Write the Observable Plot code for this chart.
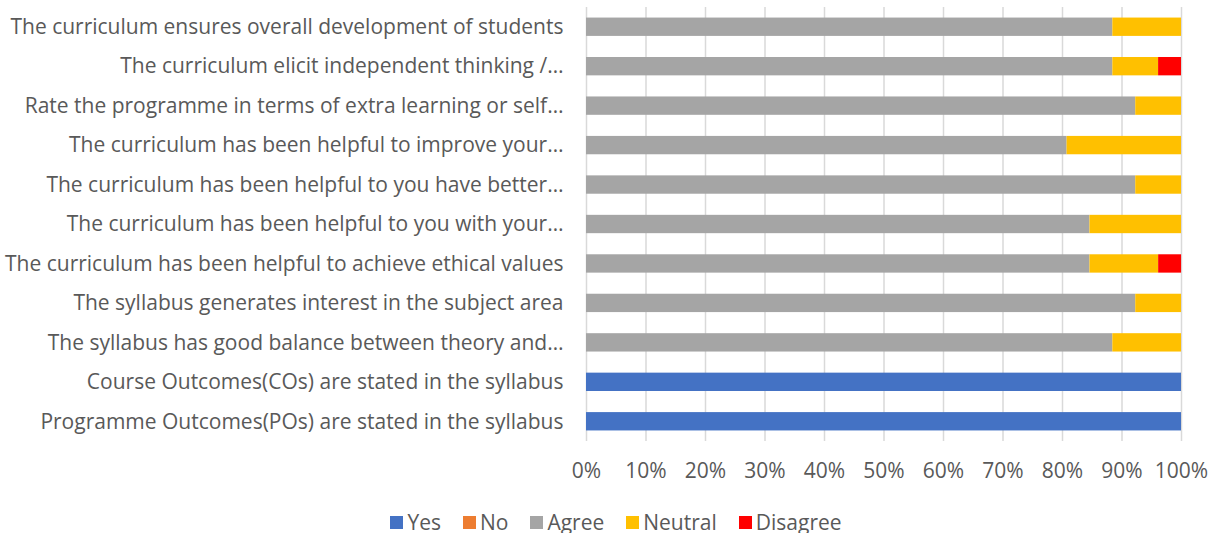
<!DOCTYPE html>
<html>
<head>
<meta charset="utf-8">
<script src="https://cdn.jsdelivr.net/npm/d3@7"></script>
<script src="https://cdn.jsdelivr.net/npm/@observablehq/plot@0.6"></script>
<style>
  html, body { margin: 0; padding: 0; background: #fff; overflow: hidden; }
  #chart { width: 1209px; }
  #chart svg { display: block; }
  .legend { display: flex; justify-content: center; gap: 22px; font-family: "Open Sans", sans-serif; font-size: 21px; line-height: 22px; color: #595959; margin-top: 21px; padding-left: 23px; }
  .legend span.item { display: flex; align-items: center; }
  .legend span.sw { display: inline-block; width: 13px; height: 13px; margin-right: 4px; }
</style>
</head>
<body>
<div id="chart"></div>
<script>
const categories = [
  "The curriculum ensures overall development of students",
  "The curriculum elicit independent thinking /…",
  "Rate the programme in terms of extra learning or self…",
  "The curriculum has been helpful to improve your…",
  "The curriculum has been helpful to you have better…",
  "The curriculum has been helpful to you with your…",
  "The curriculum has been helpful to achieve ethical values",
  "The syllabus generates interest in the subject area",
  "The syllabus has good balance between theory and…",
  "Course Outcomes(COs) are stated in the syllabus",
  "Programme Outcomes(POs) are stated in the syllabus"
];
const seriesNames = ["Yes", "No", "Agree", "Neutral", "Disagree"];
const seriesColors = ["#4472C4", "#ED7D31", "#A5A5A5", "#FFC000", "#FF0000"];
const yes      = [0, 0, 0, 0, 0, 0, 0, 0, 0, 100, 100];
const no       = [0, 0, 0, 0, 0, 0, 0, 0, 0, 0, 0];
const agree    = [88.46, 88.46, 92.31, 80.77, 92.31, 84.62, 84.62, 92.31, 88.46, 0, 0];
const neutral  = [11.54, 7.69, 7.69, 19.23, 7.69, 15.38, 11.54, 7.69, 11.54, 0, 0];
const disagree = [0, 3.85, 0, 0, 0, 0, 3.85, 0, 0, 0, 0];
const xTicks = [0, 10, 20, 30, 40, 50, 60, 70, 80, 90, 100];

const seriesValues = [yes, no, agree, neutral, disagree];
const rows = [];
categories.forEach((c, i) => {
  seriesNames.forEach((s, j) => {
    rows.push({category: c, series: s, value: seriesValues[j][i]});
  });
});

const chart = Plot.plot({
  width: 1209,
  height: 490,
  marginLeft: 586,
  marginRight: 28,
  marginTop: 7,
  marginBottom: 49,
  style: {fontFamily: "'Open Sans', sans-serif", fontSize: "21px", color: "#595959", background: "#fff", overflow: "visible"},
  x: {domain: [0, 100], ticks: xTicks, tickFormat: d => d + "%"},
  y: {domain: categories, paddingInner: 0.535, paddingOuter: 0.2675, round: false},
  color: {domain: seriesNames, range: seriesColors},
  marks: [
    Plot.gridX(xTicks, {stroke: "#d9d9d9", strokeOpacity: 1, strokeWidth: 1.5}),
    Plot.barX(rows, Plot.stackX({y: "category", x: "value", fill: "series", order: seriesNames})),
    Plot.axisX({ticks: xTicks, tickSize: 0, tickPadding: 22, label: null, tickFormat: d => d + "%", fontSize: 21}),
    Plot.axisY({tickSize: 0, tickPadding: 23, label: null, fontSize: 21})
  ]
});
document.getElementById("chart").appendChild(chart);

const legend = document.createElement("div");
legend.className = "legend";
seriesNames.forEach((s, j) => {
  const item = document.createElement("span");
  item.className = "item";
  const sw = document.createElement("span");
  sw.className = "sw";
  sw.style.background = seriesColors[j];
  item.appendChild(sw);
  item.appendChild(document.createTextNode(s));
  legend.appendChild(item);
});
document.getElementById("chart").appendChild(legend);
</script>
</body>
</html>
